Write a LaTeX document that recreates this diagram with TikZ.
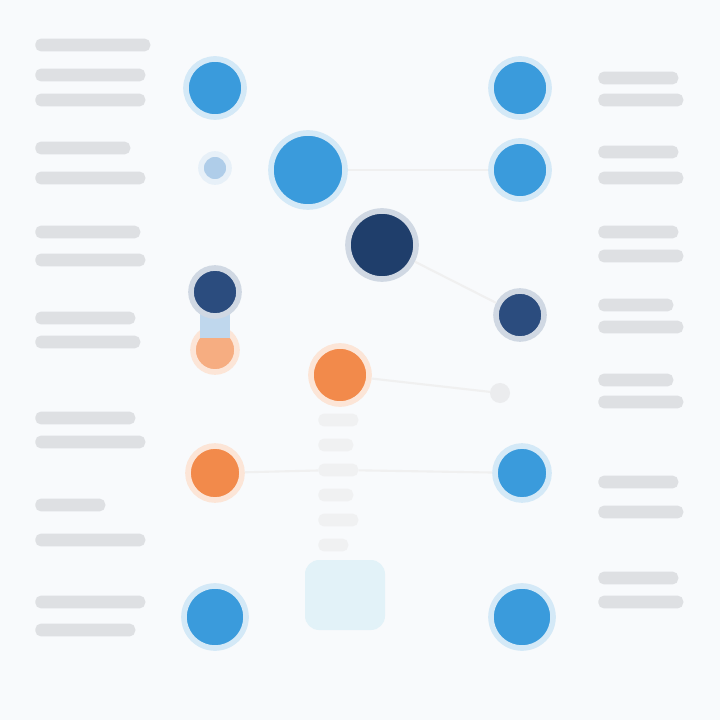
\documentclass[tikz,border=0pt]{standalone}
\definecolor{skyblue}{HTML}{3A9BDC}
\definecolor{paleblue}{HTML}{AFCDE9}
\definecolor{navy}{HTML}{2B4C7E}
\definecolor{deepnavy}{HTML}{1F3E6B}
\definecolor{tangerine}{HTML}{F28A4B}
\definecolor{backdrop}{HTML}{F8FAFC}
\definecolor{bar}{HTML}{DEE0E3}
\definecolor{icecyan}{HTML}{E2F2F8}
\begin{document}
\begin{tikzpicture}[x=0.025cm, y=-0.025cm,
    dot/.style = {circle, inner sep=0pt, line width=4pt},
    blue/.style = {dot, fill=skyblue, draw=skyblue!22},
    pale/.style = {dot, fill=paleblue, draw=paleblue!30},
    dark/.style = {dot, fill=navy, draw=navy!22},
    orange/.style = {dot, fill=tangerine, draw=tangerine!22},
    txt/.style = {fill=bar, rounded corners=4pt, inner sep=0pt, minimum height=0.32cm},
    faint/.style = {draw=black!6, line width=1.5pt}]
    \useasboundingbox[fill=backdrop] (0,0) rectangle (720,720);
    % text lines on the left
    \foreach \y/\w [count=\i] in {45/115, 75/110, 100/110, 148/95, 178/110, 232/105, 260/110,
        318/100, 342/105, 418/100, 442/110, 505/70, 540/110, 602/110, 630/100}
        \node[txt, minimum width=\w*0.025cm, anchor=west] (l\i) at (35,\y) {};
    % text lines on the right
    \foreach \y/\w [count=\i] in {78/80, 100/85, 152/80, 178/85, 232/80, 256/85, 305/75, 327/85,
        380/75, 402/85, 482/80, 512/85, 578/80, 602/85}
        \node[txt, minimum width=\w*0.025cm, anchor=west] (r\i) at (598,\y) {};
    % faint middle column
    \fill[icecyan, rounded corners=10pt] (305,560) rectangle (385,630);
    \foreach \y/\w [count=\i] in {420/40, 445/35, 470/40, 495/35, 520/40, 545/30}
        \node[txt, fill=bar!45, minimum width=\w*0.025cm, anchor=west] (c\i) at (318,\y) {};
    % left column
    \node[blue, minimum size=1.45cm] (a1) at (215,88) {};
    \node[pale, minimum size=0.7cm] (a2) at (215,168) {};
    \node[orange, fill=tangerine!70, minimum size=1.1cm] (a4) at (215,350) {};
    \fill[paleblue!80] (200,300) rectangle (230,338);
    \node[dark, minimum size=1.2cm] (a3) at (215,292) {};
    \node[orange, minimum size=1.35cm] (a5) at (215,473) {};
    \node[blue, minimum size=1.55cm] (a6) at (215,617) {};
    % middle
    \node[blue, minimum size=1.85cm] (m1) at (308,170) {};
    \node[dark, fill=deepnavy, minimum size=1.7cm] (m2) at (382,245) {};
    \node[orange, minimum size=1.45cm] (m3) at (340,375) {};
    % right column
    \node[blue, minimum size=1.45cm] (b1) at (520,88) {};
    \node[blue, minimum size=1.45cm] (b2) at (520,170) {};
    \node[dark, minimum size=1.2cm] (b3) at (520,315) {};
    \node[dot, fill=bar!60, minimum size=0.5cm, line width=0pt] (b4) at (500,393) {};
    \node[blue, minimum size=1.35cm] (b5) at (522,473) {};
    \node[blue, minimum size=1.55cm] (b6) at (522,617) {};
    % connectors
    \draw[faint] (m1) -- (b2);
    \draw[faint] (m2) -- (b3);
    \draw[faint] (m3) -- (b4);
    \draw[faint] (c3) -- (b5);
    \draw[faint] (a5) -- (c3);
\end{tikzpicture}
\end{document}
